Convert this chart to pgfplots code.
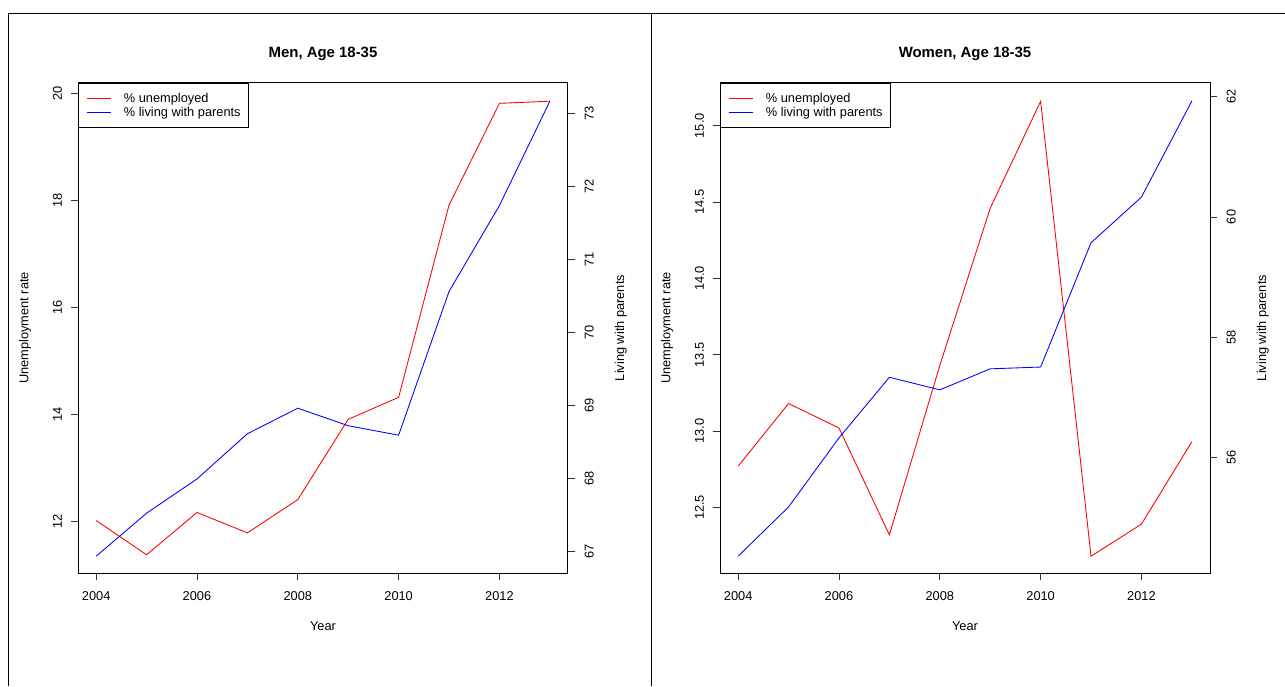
\documentclass[border=0pt]{standalone}
\usepackage{fontspec}
\setmainfont{Liberation Sans}
\usepackage{pgfplots}
\pgfplotsset{compat=1.18}
\pgfplotsset{
  base/.style={scale only axis, width=367.5pt, height=367.5pt,
    xmin=2003.64, xmax=2013.36,
    font=\fontsize{9.6}{11.5}\selectfont,
    /pgf/number format/assume math mode=true,
    /pgf/number format/1000 sep={},
    tick align=outside, major tick length=5.4pt,
    tick style={black!80, line width=0.6pt},
    axis line style={line width=0.75pt},
    every axis plot/.append style={line width=0.65pt},
  },
  lefty/.style={xtick={2004,2006,...,2012}, xtick pos=lower, ytick pos=left,
    xticklabel style={anchor=north, inner sep=0pt}, xticklabel shift=8pt,
    yticklabel style={rotate=90, anchor=south, inner sep=0pt}, yticklabel shift=6.5pt,
    title style={at={(axis description cs:0.5,1.043)}, anchor=center, yshift=0pt, font=\bfseries\fontsize{11.2}{13.5}\selectfont},
    xlabel={Year}, xlabel style={at={(axis description cs:0.5,-0.108)}, anchor=center},
    ylabel={Unemployment rate}, ylabel style={at={(axis description cs:-0.108,0.5)}, anchor=center},
  },
  righty/.style={axis x line=none, axis y line*=right,
    yticklabel style={rotate=90, anchor=north, inner sep=0pt}, yticklabel shift=7pt,
    ylabel={Living with parents}, ylabel style={at={(axis description cs:1.108,0.5)}, anchor=center},
    legend style={at={(0,1)}, anchor=north west, draw=black, line width=0.6pt,
      inner xsep=6pt, inner ysep=6.8pt, font=\fontsize{9.6}{11.5}\selectfont,
      nodes={inner sep=0pt, text height=7.2pt, text depth=2pt},
      row sep=1.3pt},
    legend cell align=left,
    legend image code/.code={\draw[#1] (0pt,0pt) -- (18pt,0pt); \path (27.5pt,0pt);},
  },
}
\begin{document}
\begin{tikzpicture}
\useasboundingbox (0,0) rectangle (963.75pt,514.5pt);
\draw[line width=0.75pt] (6pt,0) -- (6pt,504pt) -- (963.75pt,504pt);
\draw[line width=0.75pt] (488.25pt,0) -- (488.25pt,504pt);

% Men
\begin{axis}[base, lefty, at={(58.5pt,84.75pt)}, anchor=south west,
  ymin=11.04, ymax=20.19, ytick={12,14,...,20}, title={Men, Age 18-35}]
\addplot[red] coordinates {(2004,12.02)(2005,11.38)(2006,12.17)(2007,11.79)(2008,12.41)(2009,13.91)(2010,14.32)(2011,17.91)(2012,19.81)(2013,19.85)};
\end{axis}
\begin{axis}[base, righty, at={(58.5pt,84.75pt)}, anchor=south west,
  ymin=66.70, ymax=73.42, ytick={67,68,...,73}]
\addlegendimage{red, line width=0.65pt}
\addlegendentry{\% unemployed}
\addplot[blue] coordinates {(2004,66.93)(2005,67.52)(2006,67.99)(2007,68.61)(2008,68.96)(2009,68.72)(2010,68.59)(2011,70.56)(2012,71.74)(2013,73.17)};
\addlegendentry{\% living with parents}
\end{axis}

% Women
\begin{axis}[base, lefty, at={(540pt,84.75pt)}, anchor=south west,
  ymin=12.07, ymax=15.28, ytick={12.5,13,...,15},
  yticklabel style={/pgf/number format/.cd, fixed, fixed zerofill, precision=1},
  title={Women, Age 18-35}]
\addplot[red] coordinates {(2004,12.77)(2005,13.18)(2006,13.02)(2007,12.32)(2008,13.43)(2009,14.46)(2010,15.16)(2011,12.18)(2012,12.39)(2013,12.93)};
\end{axis}
\begin{axis}[base, righty, at={(540pt,84.75pt)}, anchor=south west,
  ymin=54.07, ymax=62.23, ytick={56,58,60,62}]
\addlegendimage{red, line width=0.65pt}
\addlegendentry{\% unemployed}
\addplot[blue] coordinates {(2004,54.35)(2005,55.17)(2006,56.32)(2007,57.33)(2008,57.12)(2009,57.47)(2010,57.50)(2011,59.57)(2012,60.33)(2013,61.93)};
\addlegendentry{\% living with parents}
\end{axis}
\end{tikzpicture}
\end{document}
